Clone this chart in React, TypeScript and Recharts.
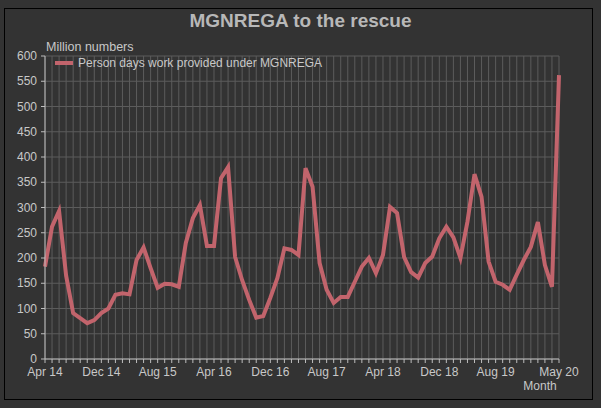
import React from 'react';
import { LineChart, Line, XAxis, YAxis, CartesianGrid, Legend } from 'recharts';

const months = [
  'Apr 14', 'May 14', 'Jun 14', 'Jul 14', 'Aug 14', 'Sep 14', 'Oct 14', 'Nov 14', 'Dec 14', 'Jan 15', 'Feb 15', 'Mar 15',
  'Apr 15', 'May 15', 'Jun 15', 'Jul 15', 'Aug 15', 'Sep 15', 'Oct 15', 'Nov 15', 'Dec 15', 'Jan 16', 'Feb 16', 'Mar 16',
  'Apr 16', 'May 16', 'Jun 16', 'Jul 16', 'Aug 16', 'Sep 16', 'Oct 16', 'Nov 16', 'Dec 16', 'Jan 17', 'Feb 17', 'Mar 17',
  'Apr 17', 'May 17', 'Jun 17', 'Jul 17', 'Aug 17', 'Sep 17', 'Oct 17', 'Nov 17', 'Dec 17', 'Jan 18', 'Feb 18', 'Mar 18',
  'Apr 18', 'May 18', 'Jun 18', 'Jul 18', 'Aug 18', 'Sep 18', 'Oct 18', 'Nov 18', 'Dec 18', 'Jan 19', 'Feb 19', 'Mar 19',
  'Apr 19', 'May 19', 'Jun 19', 'Jul 19', 'Aug 19', 'Sep 19', 'Oct 19', 'Nov 19', 'Dec 19', 'Jan 20', 'Feb 20', 'Mar 20',
  'Apr 20', 'May 20',
];

const personDays = [
  183, 262, 293, 165, 91, 81, 71, 77, 91, 100, 127, 130,
  128, 196, 221, 180, 141, 149, 148, 143, 230, 279, 305, 224,
  224, 358, 380, 202, 156, 117, 82, 85, 121, 160, 219, 216,
  206, 378, 341, 190, 137, 111, 123, 123, 153, 183, 200, 170,
  206, 301, 289, 202, 172, 161, 190, 203, 239, 262, 241, 200,
  272, 366, 321, 193, 153, 147, 137, 167, 196, 222, 271, 186,
  143, 562,
];

const labeledMonths = ['Apr 14', 'Dec 14', 'Aug 15', 'Apr 16', 'Dec 16', 'Aug 17', 'Apr 18', 'Dec 18', 'Aug 19', 'May 20'];
const yTicks = [0, 50, 100, 150, 200, 250, 300, 350, 400, 450, 500, 550, 600];

const seriesName = 'Person days work provided under MGNREGA';
const title = 'MGNREGA to the rescue';
const yLabel = 'Million numbers';
const xLabel = 'Month';

const data = months.map((m, i) => ({ month: m, value: personDays[i] }));

const FONT = 'Arial, "Liberation Sans", sans-serif';
const TEXT = '#c8c8c8';
const LINE = '#c2646c';

const XTick = (props: any) => {
  const { x, y, payload } = props;
  if (!labeledMonths.includes(payload.value)) return <g />;
  return (
    <text x={x} y={y + 11} textAnchor="middle" fill={TEXT} fontSize={12} fontFamily={FONT}>
      {payload.value}
    </text>
  );
};

const YTick = (props: any) => {
  const { x, y, payload } = props;
  return (
    <text x={x - 2} y={y + 4} textAnchor="end" fill={TEXT} fontSize={12} fontFamily={FONT}>
      {payload.value}
    </text>
  );
};

const LegendContent = (props: any) => {
  const { payload } = props;
  return (
    <div style={{ display: 'flex', flexDirection: 'column' }}>
      {(payload || []).map((p: any, i: number) => (
        <div key={i} style={{ display: 'flex', alignItems: 'center', height: 14 }}>
          <svg width={18} height={14} style={{ marginRight: 5 }}>
            <line x1={0} y1={7} x2={18} y2={7} stroke={p.color} strokeWidth={4} />
          </svg>
          <span style={{ color: TEXT, fontSize: 12, fontFamily: FONT }}>{p.value}</span>
        </div>
      ))}
    </div>
  );
};

export default function App() {
  return (
    <div style={{ position: 'absolute', left: 0, top: 0, width: 601, height: 408, background: '#333333', fontFamily: FONT }}>
      <div style={{ position: 'absolute', left: 4, top: 8, width: 589, height: 392, border: '1px solid #000', boxSizing: 'border-box' }} />
      <div style={{ position: 'absolute', left: 0, top: 9, width: 601, textAlign: 'center', color: '#b8b8b8', fontSize: 19, fontWeight: 'bold', lineHeight: '24px' }}>
        {title}
      </div>
      <div style={{ position: 'absolute', left: 46, top: 40, color: TEXT, fontSize: 12.5, lineHeight: '15px' }}>{yLabel}</div>
      <div style={{ position: 'absolute', left: 510, top: 379, width: 60, textAlign: 'center', color: TEXT, fontSize: 12, lineHeight: '15px' }}>{xLabel}</div>
      <div style={{ position: 'absolute', left: 0, top: 0 }}>
        <LineChart width={601} height={408} data={data} margin={{ top: 56, right: 42, bottom: 19, left: 0 }}>
          <CartesianGrid stroke="#5c5c5c" strokeWidth={1} />
          <XAxis
            dataKey="month"
            interval={0}
            height={30}
            tick={<XTick />}
            tickSize={4}
            stroke="#bdbdbd"
            tickLine={{ stroke: '#bdbdbd' }}
            axisLine={{ stroke: '#bdbdbd' }}
          />
          <YAxis
            width={45}
            domain={[0, 600]}
            ticks={yTicks}
            interval={0}
            tick={<YTick />}
            tickSize={4}
            stroke="#bdbdbd"
            tickLine={{ stroke: '#bdbdbd' }}
            axisLine={{ stroke: '#bdbdbd' }}
          />
          <Legend
            verticalAlign="middle"
            align="center"
            layout="horizontal"
            content={<LegendContent />}
            wrapperStyle={{ position: 'absolute', top: 56, left: 55, width: 'auto' }}
          />
          <Line
            type="linear"
            dataKey="value"
            name={seriesName}
            stroke={LINE}
            strokeWidth={4}
            dot={false}
            legendType="plainline"
            isAnimationActive={false}
          />
        </LineChart>
      </div>
    </div>
  );
}
